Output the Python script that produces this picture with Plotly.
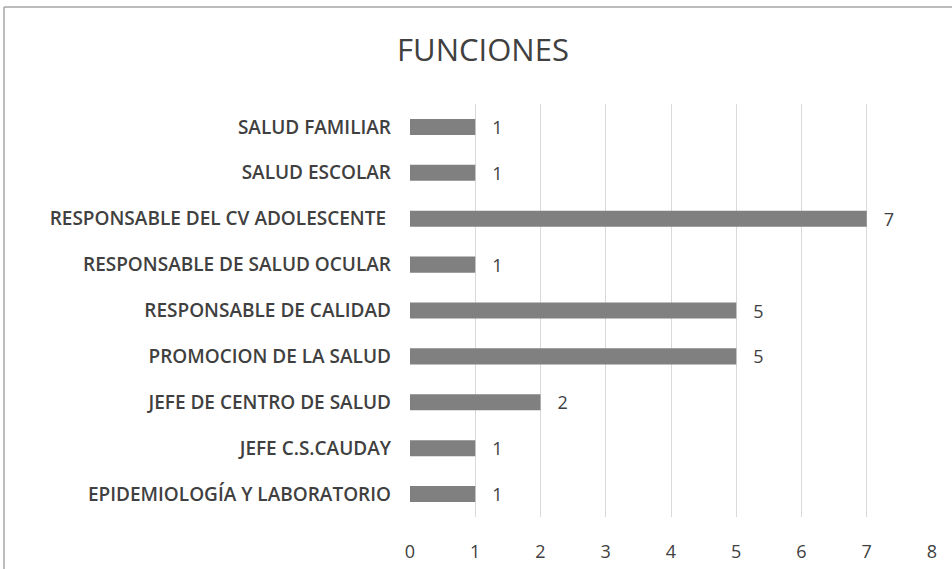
import plotly.graph_objects as go

categories = [
    "SALUD FAMILIAR",
    "SALUD ESCOLAR",
    "RESPONSABLE DEL CV ADOLESCENTE ",
    "RESPONSABLE DE SALUD OCULAR",
    "RESPONSABLE DE CALIDAD",
    "PROMOCION DE LA SALUD",
    "JEFE DE CENTRO DE SALUD",
    "JEFE C.S.CAUDAY",
    "EPIDEMIOLOGÍA Y LABORATORIO",
]
values = [1, 1, 7, 1, 5, 5, 2, 1, 1]
x_ticks = [0, 1, 2, 3, 4, 5, 6, 7, 8]

# plotly draws the first category at the bottom, so reverse
cats_r = categories[::-1]
vals_r = values[::-1]

FONT = "Open Sans"
W, H = 952, 569
ML, MR, MT, MB = 410, 20, 104, 52
pw = W - ML - MR
ph = H - MT - MB

fig = go.Figure(go.Bar(
    x=vals_r, y=cats_r, orientation="h",
    marker=dict(color="#808080", line=dict(width=0)),
    text=["\u00a0\u00a0\u00a0" + str(v) for v in vals_r], textposition="outside",
    textfont=dict(family=FONT, size=18, color="#404040"),
    constraintext="none",
    cliponaxis=False,
))

def px_x(p):
    return (p - ML) / pw

def px_y(p):
    return (H - MB - p) / ph

fig.update_layout(
    width=W, height=H,
    margin=dict(l=ML, r=MR, t=MT, b=MB, autoexpand=False),
    paper_bgcolor="white", plot_bgcolor="white",
    bargap=0.65,
    showlegend=False,
    title=dict(text="FUNCIONES", x=483 / W, xanchor="center",
               y=1 - 50 / H, yanchor="middle",
               font=dict(family=FONT, size=31, color="#404040")),
    xaxis=dict(range=[0, 8], tickvals=x_ticks, showgrid=True,
               gridcolor="#d9d9d9", gridwidth=1, zeroline=False,
               showline=False, ticks="", automargin=False,
               ticklabelstandoff=22,
               tickfont=dict(family=FONT, size=18, color="#404040"),
               fixedrange=True),
    yaxis=dict(showgrid=False, zeroline=False, showline=False, ticks="",
               automargin=False, ticklabelstandoff=18,
               tickfont=dict(family=FONT, size=19, color="#404040", weight=600),
               fixedrange=True),
    shapes=[
        dict(type="line", xref="paper", yref="paper",
             x0=px_x(4), x1=px_x(4), y0=px_y(7), y1=px_y(569),
             line=dict(color="#a6a6a6", width=1.5)),
        dict(type="line", xref="paper", yref="paper",
             x0=px_x(4), x1=px_x(952), y0=px_y(7), y1=px_y(7),
             line=dict(color="#a6a6a6", width=1.5)),
    ],
)

fig.write_html("out.html", config={"displayModeBar": False},
               post_script="document.body.style.margin='0';")
